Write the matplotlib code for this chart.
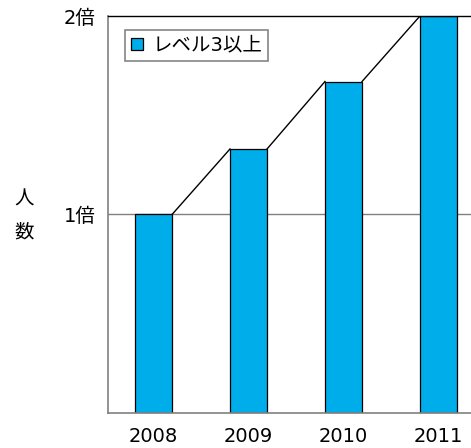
import numpy as np
import matplotlib.pyplot as plt

plt.rcParams['font.family'] = ['DejaVu Sans', 'Noto Sans CJK JP']

years = ['2008', '2009', '2010', '2011']
values = [1.0, 1.33, 1.67, 2.0]
series_name = 'レベル3以上'
ytick_vals = [1, 2]
ytick_labels = ['1倍', '2倍']

bar_color = '#00ADEB'
width = 0.39

fig = plt.figure(figsize=(4.71, 4.48), dpi=100)
ax = fig.add_axes([108 / 471, 1 - 413 / 448, 363 / 471, 397 / 448])

x = np.arange(len(years))
ax.axhline(1, color='#808080', lw=1, zorder=1)
ax.bar(x, values, width=width, color=bar_color, edgecolor='black', lw=0.9,
       label=series_name, zorder=2)

# lines joining the top of each bar to the next
for i in range(len(values) - 1):
    ax.plot([x[i] + width / 2, x[i + 1] - width / 2], [values[i], values[i + 1]],
            color='black', lw=1, zorder=3)

ax.set_xlim(-0.479, 3.342)
ax.set_ylim(0, 2)
ax.set_xticks(x)
ax.set_xticklabels(years, fontsize=14)
ax.set_yticks(ytick_vals)
ax.set_yticklabels(ytick_labels, fontsize=14)
ax.tick_params(axis='y', length=0, pad=9)
ax.tick_params(axis='x', length=0, pad=10)

for s in ['left', 'bottom']:
    ax.spines[s].set_color('#808080')
    ax.spines[s].set_linewidth(1.2)
ax.spines['right'].set_visible(False)
ax.spines['top'].set_color('black')
ax.spines['top'].set_linewidth(1)

fig.text(24 / 471, 1 - 199 / 448, '人', fontsize=14, ha='center', va='center')
fig.text(24 / 471, 1 - 232 / 448, '数', fontsize=14, ha='center', va='center')

leg = ax.legend(loc='upper left', bbox_to_anchor=(17 / 363, 1 - 14 / 397), fontsize=14,
                frameon=True, fancybox=False, handlelength=0.6, handleheight=0.6,
                handletextpad=0.5, borderpad=0.3, borderaxespad=0)
leg.get_frame().set_edgecolor('#666666')
leg.get_frame().set_linewidth(1.2)

fig.savefig('out.png', dpi=100)
